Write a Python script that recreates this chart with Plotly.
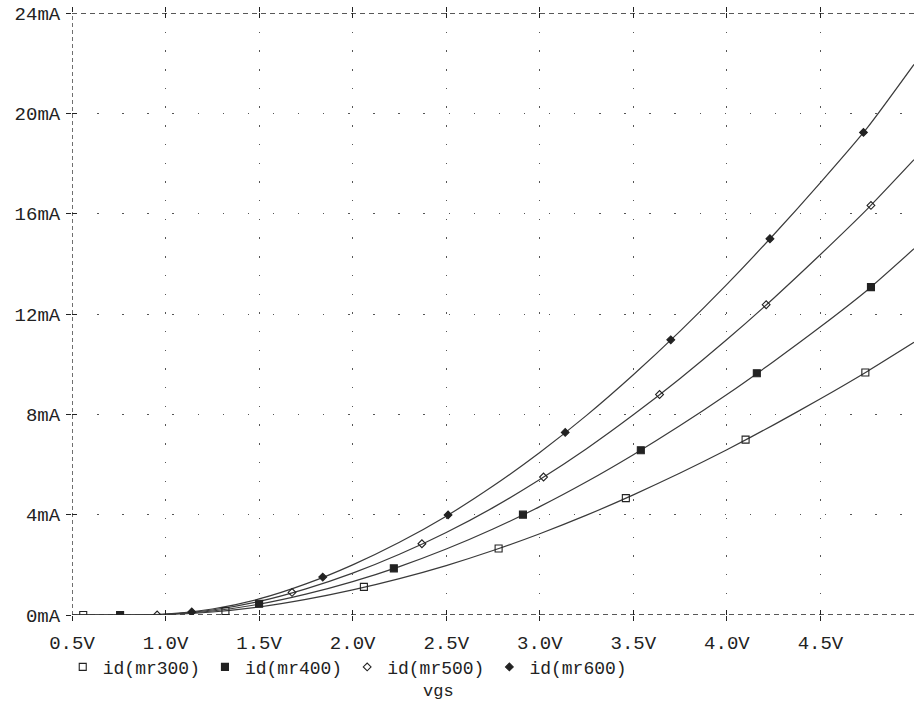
import plotly.graph_objects as go

# ---- data ----
vgs = [0.5, 0.75, 1.0, 1.25, 1.5, 1.75, 2.0, 2.25, 2.5, 2.75, 3.0,
       3.25, 3.5, 3.75, 4.0, 4.25, 4.5, 4.75, 5.0]
id_mr300 = [0, 0, 0.02, 0.12, 0.32, 0.62, 1.0, 1.45, 1.97, 2.57, 3.24,
            3.98, 4.79, 5.66, 6.59, 7.58, 8.62, 9.71, 10.87]
id_mr400 = [0, 0, 0.03, 0.16, 0.43, 0.83, 1.33, 1.93, 2.63, 3.43, 4.32,
            5.31, 6.39, 7.55, 8.79, 10.11, 11.49, 12.95, 14.6]
id_mr500 = [0, 0, 0.03, 0.2, 0.54, 1.04, 1.67, 2.42, 3.29, 4.28, 5.4,
            6.63, 7.98, 9.43, 10.98, 12.63, 14.37, 16.18, 18.15]
id_mr600 = [0, 0, 0.04, 0.24, 0.64, 1.24, 2.0, 2.9, 3.94, 5.14, 6.48,
            7.96, 9.58, 11.32, 13.18, 15.16, 17.24, 19.42, 21.95]

# marker positions along each trace (as drawn by the simulator)
mk300_x = [0.56, 1.32, 2.06, 2.78, 3.46, 4.10, 4.74]
mk300_y = [0.0, 0.16, 1.12, 2.65, 4.66, 6.99, 9.67]
mk400_x = [0.757, 1.5, 2.22, 2.91, 3.54, 4.16, 4.77]
mk400_y = [0.0, 0.45, 1.86, 4.0, 6.57, 9.64, 13.07]
mk500_x = [0.955, 1.676, 2.37, 3.02, 3.64, 4.21, 4.77]
mk500_y = [0.0, 0.9, 2.84, 5.5, 8.79, 12.37, 16.33]
mk600_x = [1.14, 1.84, 2.51, 3.136, 3.70, 4.23, 4.73]
mk600_y = [0.12, 1.51, 3.99, 7.28, 10.97, 15.0, 19.24]

names = ["id(mr300)", "id(mr400)", "id(mr500)", "id(mr600)"]

x_tickvals = [0.5, 1.0, 1.5, 2.0, 2.5, 3.0, 3.5, 4.0, 4.5]
x_ticktext = ["0.5V", "1.0V", "1.5V", "2.0V", "2.5V", "3.0V", "3.5V", "4.0V", "4.5V"]
y_tickvals = [0, 4, 8, 12, 16, 20, 24]
y_ticktext = ["0mA", "4mA", "8mA", "12mA", "16mA", "20mA", "24mA"]

X_RANGE = [0.5, 5.0]
Y_RANGE = [0, 24]

INK = "#222222"
FONT = "Liberation Mono"

fig = go.Figure()

series = [id_mr300, id_mr400, id_mr500, id_mr600]
markers = [(mk300_x, mk300_y), (mk400_x, mk400_y), (mk500_x, mk500_y), (mk600_x, mk600_y)]
symbols = ["square-open", "square", "diamond-open", "diamond"]
sizes = [7, 7, 6, 6]

for ys in series:
    fig.add_trace(go.Scatter(x=vgs, y=ys, mode="lines", showlegend=False,
                             line=dict(color="#3a3a3a", width=1.2, shape="spline", smoothing=0.6),
                             hoverinfo="skip"))

for (mx, my), sym, sz, nm in zip(markers, symbols, sizes, names):
    fig.add_trace(go.Scatter(x=mx, y=my, mode="markers", name=nm,
                             marker=dict(symbol=sym, size=sz, color=INK,
                                         line=dict(color=INK, width=1.1))))

# overlay axes (inside half of the '+' tick crosses)
fig.add_trace(go.Scatter(x=[], y=[], xaxis="x2", yaxis="y2", showlegend=False))

fig.update_layout(
    width=916, height=713,
    margin=dict(l=72, r=2, t=13, b=98),
    paper_bgcolor="white", plot_bgcolor="white",
    font=dict(family=FONT, size=19, color=INK),
    xaxis=dict(range=X_RANGE, tickvals=x_tickvals, ticktext=x_ticktext,
               showgrid=True, gridcolor="#555", gridwidth=1.4, griddash="1.4px,17.3px",
               zeroline=False, showline=False,
               ticks="outside", ticklen=5, tickcolor=INK, tickwidth=1.2, mirror="ticks",
               ticklabelstandoff=5, tickfont=dict(family=FONT, size=19, color=INK)),
    yaxis=dict(range=Y_RANGE, tickvals=y_tickvals, ticktext=y_ticktext,
               showgrid=True, gridcolor="#555", gridwidth=1.4, griddash="1.4px,23.7px",
               zeroline=False, showline=False,
               ticks="outside", ticklen=5, tickcolor=INK, tickwidth=1.2,
               ticklabelstandoff=2, tickfont=dict(family=FONT, size=19, color=INK)),
    xaxis2=dict(overlaying="x", range=X_RANGE, tickvals=x_tickvals, showticklabels=False,
                showgrid=False, zeroline=False, ticks="inside", ticklen=5,
                tickcolor=INK, tickwidth=1.2, mirror="ticks", anchor="y2"),
    yaxis2=dict(overlaying="y", range=Y_RANGE, tickvals=y_tickvals, showticklabels=False,
                showgrid=False, zeroline=False, ticks="inside", ticklen=5,
                tickcolor=INK, tickwidth=1.2, anchor="x2", side="left"),
    legend=dict(orientation="h", x=-0.011, xanchor="left", y=-0.056, yanchor="top",
                font=dict(family=FONT, size=18, color=INK), bgcolor="rgba(0,0,0,0)",
                itemsizing="trace", tracegroupgap=0),
    annotations=[dict(text="vgs", xref="paper", yref="paper", x=0.435, y=-0.108,
                      xanchor="center", yanchor="top", showarrow=False,
                      font=dict(family=FONT, size=17, color=INK))],
    shapes=[
        dict(type="line", xref="paper", yref="y", x0=0, x1=1, y0=Y_RANGE[0], y1=Y_RANGE[0],
             line=dict(color=INK, width=1.3, dash="5px,4px"), layer="below"),
        dict(type="line", xref="paper", yref="y", x0=0, x1=1, y0=Y_RANGE[1], y1=Y_RANGE[1],
             line=dict(color=INK, width=1.3, dash="5px,4px"), layer="below"),
        dict(type="line", xref="x", yref="paper", x0=X_RANGE[0], x1=X_RANGE[0], y0=0, y1=1,
             line=dict(color=INK, width=1.3, dash="4px,3px"), layer="below"),
    ],
)

fig.write_html("out.html")
